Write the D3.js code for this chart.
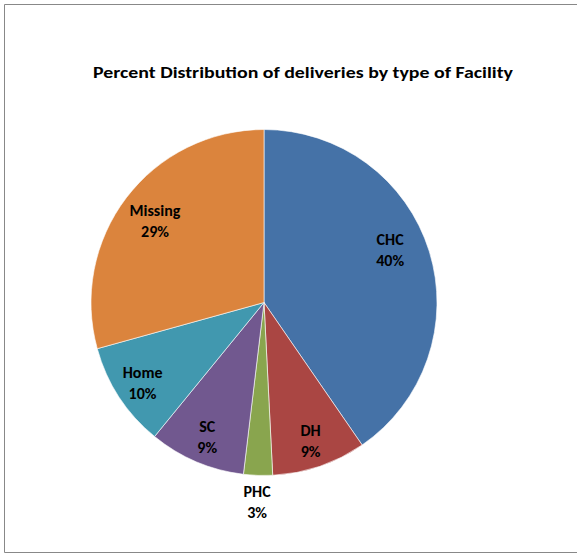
<!DOCTYPE html>
<html>
<head>
<meta charset="utf-8">
<script src="https://cdn.jsdelivr.net/npm/d3@7"></script>
<style>
  body { margin: 0; background: #fff; }
  text { font-family: Calibri, Carlito, Lato, sans-serif; font-weight: bold; fill: #000; }
</style>
</head>
<body>
<svg width="577" height="555"></svg>
<script>
// facility types, clockwise from 12 o'clock
var categories = ["CHC", "DH", "PHC", "SC", "Home", "Missing"];
var values = [40.4, 8.8, 2.7, 9.0, 9.8, 29.3];
var colors = ["#4572A7", "#AA4643", "#89A54E", "#71588F", "#4198AF", "#DB843D"];

var svg = d3.select("svg");

// chart area border (right edge is cut off)
svg.append("path")
    .attr("d", "M578,4.5 H4.5 V552.5 H578")
    .attr("fill", "none")
    .attr("stroke", "#888")
    .attr("stroke-width", 1);

svg.append("text")
    .attr("x", 303)
    .attr("y", 78)
    .attr("text-anchor", "middle")
    .attr("font-size", 16.5)
    .attr("textLength", 420)
    .attr("lengthAdjust", "spacingAndGlyphs")
    .text("Percent Distribution of deliveries by type of Facility");

var cx = 264, cy = 302.5, radius = 173;

var data = categories.map(function(c, i) { return {name: c, value: values[i], color: colors[i]}; });

var pie = d3.pie().sort(null).value(function(d) { return d.value; });
var arc = d3.arc().innerRadius(0).outerRadius(radius);

var g = svg.append("g").attr("transform", "translate(" + cx + "," + cy + ")");

var slices = pie(data);

g.selectAll("path.slice")
    .data(slices)
  .enter().append("path")
    .attr("class", "slice")
    .attr("d", arc)
    .attr("fill", function(d) { return d.data.color; })
    .attr("stroke", "#fff")
    .attr("stroke-width", 0.6);

var label = g.selectAll("g.label")
    .data(slices)
  .enter().append("g")
    .attr("class", "label")
    .attr("transform", function(d) {
      var a = (d.startAngle + d.endAngle) / 2;
      var small = (d.endAngle - d.startAngle) < 0.3;
      if (d.data.value > 35) a -= 0.1;  // excel nudges the big slice label up a bit
      var r = small ? 199 : (d.data.value > 20 ? 137 : 145);
      return "translate(" + (Math.sin(a) * r) + "," + (-Math.cos(a) * r) + ")";
    });

label.append("text")
    .attr("text-anchor", "middle")
    .attr("font-size", 16)
    .attr("y", -4)
    .text(function(d) { return d.data.name; });

label.append("text")
    .attr("text-anchor", "middle")
    .attr("font-size", 16)
    .attr("y", 17)
    .text(function(d) { return Math.round(d.data.value) + "%"; });
</script>
</body>
</html>
